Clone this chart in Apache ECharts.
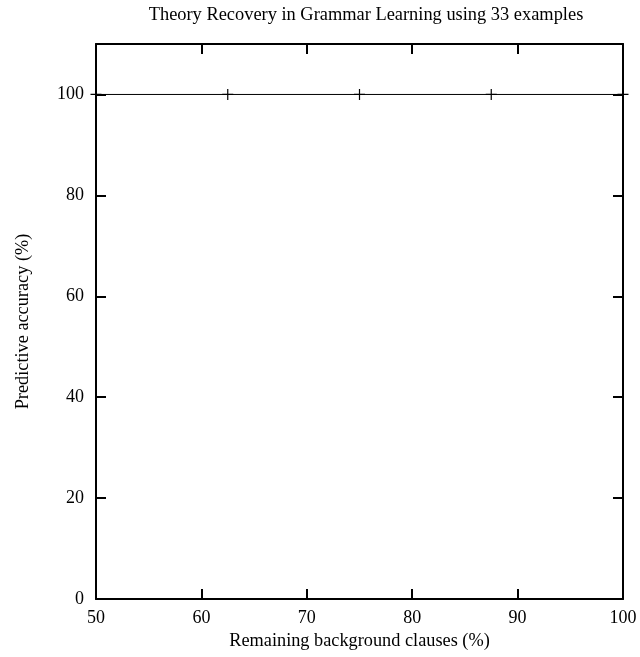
<!DOCTYPE html>
<html>
<head>
<meta charset="utf-8">
<script src="https://cdn.jsdelivr.net/npm/echarts@6/dist/echarts.min.js"></script>
<style>
html,body{margin:0;padding:0;background:#fff;}
#chart{width:640px;height:657px;}
</style>
</head>
<body>
<div id="chart"></div>
<script>
const titleText = 'Theory Recovery in Grammar Learning using 33 examples';
const xName = 'Remaining background clauses (%)';
const yName = 'Predictive accuracy (%)';
const remaining = [50, 62.5, 75, 87.5, 100];
const accuracy = [100, 100, 100, 100, 100];

const FONT = '"Liberation Serif", "Times New Roman", serif';
const chart = echarts.init(document.getElementById('chart'), null, {renderer: 'canvas'});
const plusPath = 'path://M-0.6,-5.5 h1.2 v4.9 h4.9 v1.2 h-4.9 v4.9 h-1.2 v-4.9 h-4.9 v-1.2 h4.9 z';

const axisLine = {show: true, onZero: false, lineStyle: {color: '#000', width: 2}};
const axisTick = {show: true, inside: true, length: 10, lineStyle: {color: '#000', width: 2}};

chart.setOption({
  animation: false,
  backgroundColor: '#fff',
  title: {
    text: titleText,
    left: 361, top: 1, textAlign: 'center',
    textStyle: {fontFamily: FONT, fontSize: 18.4, fontWeight: 'normal', color: '#000'}
  },
  grid: {left: 96, right: 17, top: 44, bottom: 58, containLabel: false},
  xAxis: [{
    type: 'value', min: 50, max: 100, interval: 10, position: 'bottom',
    name: xName, nameLocation: 'middle', nameGap: 33,
    nameTextStyle: {fontFamily: FONT, fontSize: 18.3, color: '#000'},
    axisLine: axisLine, axisTick: axisTick, splitLine: {show: false},
    axisLabel: {fontFamily: FONT, fontSize: 18, color: '#000', margin: 10}
  }, {
    type: 'value', min: 50, max: 100, interval: 10, position: 'top',
    axisLine: axisLine, axisTick: axisTick, splitLine: {show: false},
    axisLabel: {show: false}
  }],
  yAxis: [{
    type: 'value', min: 0, max: 110, interval: 20, position: 'left',
    name: yName, nameLocation: 'middle', nameGap: 64,
    nameTextStyle: {fontFamily: FONT, fontSize: 18.3, color: '#000'},
    axisLine: axisLine, axisTick: axisTick, splitLine: {show: false},
    axisLabel: {fontFamily: FONT, fontSize: 18, color: '#000', margin: 12, showMaxLabel: false}
  }, {
    type: 'value', min: 0, max: 110, interval: 20, position: 'right',
    axisLine: axisLine, axisTick: axisTick, splitLine: {show: false},
    axisLabel: {show: false}
  }],
  series: [{
    type: 'line',
    xAxisIndex: 0, yAxisIndex: 0,
    data: remaining.map((x, i) => [x, accuracy[i]]),
    clip: false,
    lineStyle: {color: '#000', width: 1},
    symbol: plusPath, symbolSize: 11, showAllSymbol: true,
    itemStyle: {color: '#000'}
  }]
});
</script>
</body>
</html>
